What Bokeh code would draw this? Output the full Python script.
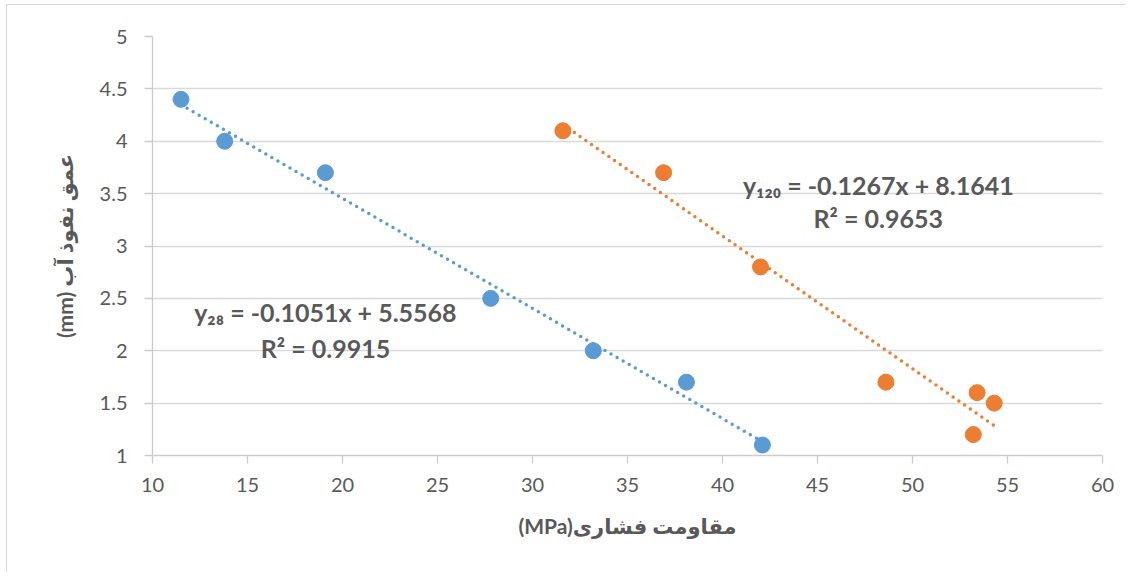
from bokeh.plotting import figure
from bokeh.models import Label, FixedTicker, Range1d
from bokeh.embed import file_html
from bokeh.resources import INLINE

# --- data ---
x28 = [11.5, 13.8, 19.1, 27.8, 33.2, 38.1, 42.1]
y28 = [4.4, 4.0, 3.7, 2.5, 2.0, 1.7, 1.1]
x120 = [31.6, 36.9, 42.0, 48.6, 53.4, 54.3, 53.2]
y120 = [4.1, 3.7, 2.8, 1.7, 1.6, 1.5, 1.2]
slope28, icpt28, r2_28 = -0.1051, 5.5568, 0.9915
slope120, icpt120, r2_120 = -0.1267, 8.1641, 0.9653
x_ticks = [10, 15, 20, 25, 30, 35, 40, 45, 50, 55, 60]
y_ticks = [1, 1.5, 2, 2.5, 3, 3.5, 4, 4.5, 5]
y_tick_labels = ["1", "1.5", "2", "2.5", "3", "3.5", "4", "4.5", "5"]
x_label = "(MPa)مقاومت فشاری"
y_label = "(mm) عمق نفوذ آب"

BLUE = "#5B9BD5"
ORANGE = "#ED7D31"
GRAY = "#595959"
FONT = "Lato, 'DejaVu Sans'"

p = figure(width=1120, height=568, output_backend="svg", toolbar_location=None,
           x_range=Range1d(10, 60), y_range=Range1d(1, 5),
           min_border_left=145, min_border_right=25, min_border_top=31, min_border_bottom=118,
           margin=(4, 0, 0, 6),
           styles={"border-left": "1px solid #d9d9d9", "border-top": "1px solid #d9d9d9"})
p.outline_line_color = None
p.background_fill_color = "white"
p.border_fill_color = "white"

p.xgrid.visible = False
p.ygrid.grid_line_color = "#d9d9d9"
p.ygrid.grid_line_width = 1.3
p.ygrid.ticker = FixedTicker(ticks=y_ticks)

p.xaxis.ticker = FixedTicker(ticks=x_ticks)
p.yaxis.ticker = FixedTicker(ticks=y_ticks)
p.yaxis.major_label_overrides = {t: l for t, l in zip(y_ticks, y_tick_labels)}
for ax in (p.xaxis, p.yaxis):
    ax.axis_line_color = "#cccccc"
    ax.axis_line_width = 1.3
    ax.major_tick_line_color = "#cccccc"
    ax.major_tick_line_width = 1.3
    ax.major_tick_in = 0
    ax.major_tick_out = 8
    ax.minor_tick_line_color = None
    ax.major_label_text_font = FONT
    ax.major_label_text_font_size = "20px"
    ax.major_label_text_color = GRAY
    ax.axis_label_text_font = FONT
    ax.axis_label_text_font_size = "21px"
    ax.axis_label_text_font_style = "bold"
    ax.axis_label_text_color = GRAY
p.xaxis.axis_label = x_label
p.yaxis.axis_label = y_label
p.xaxis.major_label_standoff = 14
p.yaxis.major_label_standoff = 17
p.xaxis.axis_label_standoff = 18
p.yaxis.axis_label_standoff = 20

# trend lines from regression coefficients over data range
tx28 = [min(x28), max(x28)]
ty28 = [slope28 * v + icpt28 for v in tx28]
tx120 = [min(x120), max(x120)]
ty120 = [slope120 * v + icpt120 for v in tx120]
p.line(tx28, ty28, line_color=BLUE, line_width=3.5, line_dash="0 7", line_cap="round")
p.line(tx120, ty120, line_color=ORANGE, line_width=3.5, line_dash="0 7", line_cap="round")

p.scatter(x28, y28, size=16, fill_color=BLUE, line_color=BLUE)
p.scatter(x120, y120, size=16, fill_color=ORANGE, line_color=ORANGE)

def eq_text(sub, m, b):
    return "y%s = %.4fx + %.4f" % (sub, m, b)

subs = str.maketrans("0123456789", "₀₁₂₃₄₅₆₇₈₉")
labels = [
    (48.2, 3.58, eq_text("120".translate(subs), slope120, icpt120)),
    (48.2, 3.27, "R² = %.4f" % r2_120),
    (19.1, 2.37, eq_text("28".translate(subs), slope28, icpt28)),
    (19.1, 2.03, "R² = %.4f" % r2_28),
]
for lx, ly, t in labels:
    p.add_layout(Label(x=lx, y=ly, text=t, text_align="center", text_baseline="middle",
                       text_font=FONT, text_font_size="25px", text_font_style="bold",
                       text_color=GRAY))

open("out.html", "w").write(file_html(p, INLINE))
